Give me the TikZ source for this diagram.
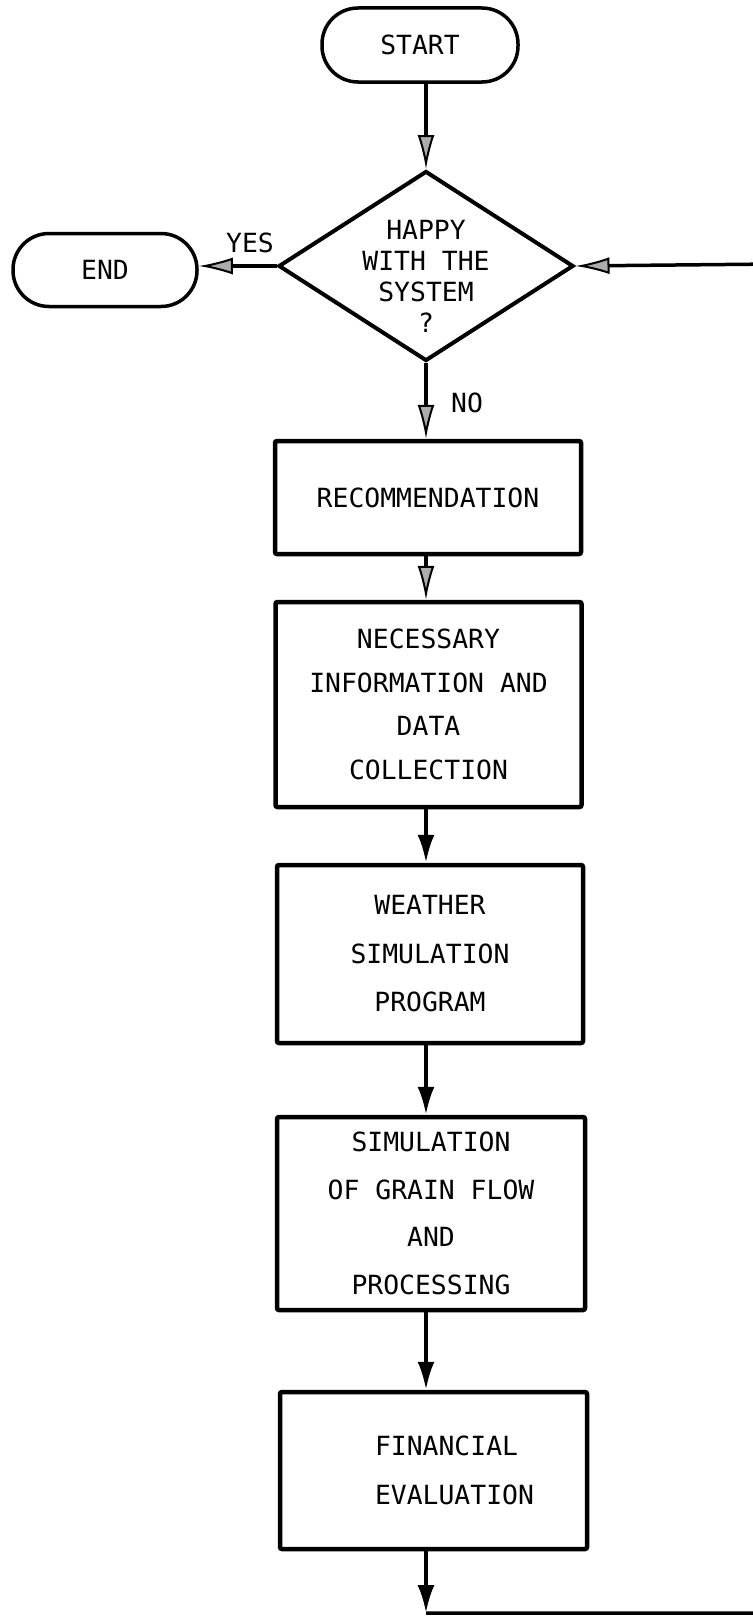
\documentclass[tikz,border=0pt]{standalone}
\usepackage{fontspec}
\setmainfont{DejaVu Sans Mono}
\usetikzlibrary{shapes.geometric,arrows.meta}
\tikzset{
  term/.style={draw, line width=3.5pt, rectangle, rounded corners=36pt, inner sep=0pt,
    font=\fontsize{26.4pt}{31pt}\selectfont},
  decision/.style={draw, diamond, line width=4pt, inner sep=0pt,
    minimum width=295pt, minimum height=190pt},
  proc/.style={draw, rectangle, line width=4.5pt, rounded corners=2pt, inner sep=0pt,
    minimum width=306pt, align=center},
  lbl/.style={inner sep=0pt, font=\fontsize{26.4pt}{31pt}\selectfont},
  arrl/.style={line width=3.5pt, -{Latex[length=34pt,width=17pt,open,fill=gray!65,line width=2pt]}},
  arrd/.style={line width=3.5pt, -{Latex[length=28pt,width=17pt]}}
}
\begin{document}
\begin{tikzpicture}[x=1pt,y=-1pt]
\useasboundingbox (0,0) rectangle (752,1619);
% terminals
\node[term, minimum width=196pt, minimum height=74pt] (start) at (420,45) {START};
\node[term, minimum width=184pt, minimum height=73pt] (end) at (105,270) {END};
% decision
\node[decision] (dec) at (426,266) {};
\node[lbl, align=center] (dectext) at (426,276) {HAPPY\\WITH THE\\SYSTEM\\?};
\node[lbl] (yes) at (250,243) {YES};
\node[lbl] (no) at (467,403) {NO};
% process boxes
\node[proc, minimum height=113pt, font=\fontsize{26.4pt}{43pt}\selectfont] (rec) at (428,497.5) {RECOMMENDATION};
\node[proc, minimum height=205pt, font=\fontsize{26.4pt}{43.5pt}\selectfont] (nec) at (428.5,704.5)
  {NECESSARY\\INFORMATION AND\\DATA\\COLLECTION};
\node[proc, minimum height=178pt, font=\fontsize{26.4pt}{48.5pt}\selectfont] (wea) at (430,954)
  {WEATHER\\SIMULATION\\PROGRAM};
\node[proc, minimum height=193pt, minimum width=308pt, font=\fontsize{26.4pt}{47.5pt}\selectfont] (sim) at (431,1213.5)
  {SIMULATION\\OF GRAIN FLOW\\AND\\PROCESSING};
\node[proc, minimum height=157pt, minimum width=307pt, align=left, font=\fontsize{26.4pt}{49pt}\selectfont] (fin) at (433.5,1470.5)
  {\hspace*{42pt}FINANCIAL\\\hspace*{42pt}EVALUATION};
% loop coordinates (outside the visible page on the right)
\coordinate (lb) at (426,1613);
\coordinate (rb) at (775,1613);
\coordinate (rt) at (775,264);
% connectors
\draw[arrl] (start.south -| dec.north) -- (dec.north);
\draw[arrl] (dec.west) -- (dec.west -| end.east);
\draw[arrl] (dec.south) -- (rec.north -| dec.south);
\draw[arrl] (rec.south -| dec.south) -- (nec.north -| dec.south);
\draw[arrd] (nec.south -| dec.south) -- (wea.north -| dec.south);
\draw[arrd] (wea.south -| dec.south) -- (sim.north -| dec.south);
\draw[arrd] (sim.south -| dec.south) -- (fin.north -| dec.south);
\draw[arrd] (fin.south -| dec.south) -- (lb);
\draw[arrl] (lb) -- (rb) -- (rt) -- (dec.east);
\end{tikzpicture}
\end{document}
